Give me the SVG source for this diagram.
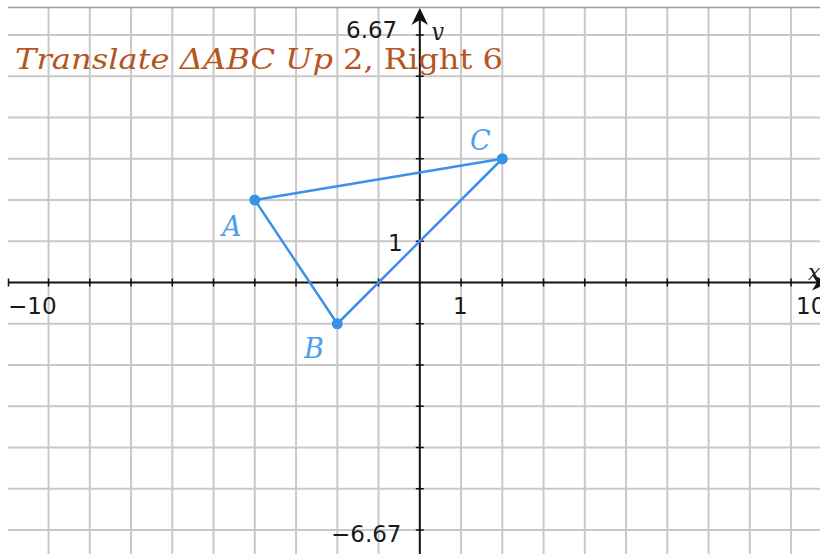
<svg xmlns="http://www.w3.org/2000/svg" width="820" height="554" viewBox="0 0 820 554">
<defs>
<style>
.grid{stroke:#c9c9c9;stroke-width:2;fill:none}
.axis{stroke:#111;stroke-width:2;fill:none}
.tick{stroke:#111;stroke-width:1.5;fill:none}
.num{font-family:"DejaVu Sans",sans-serif;font-size:23px;fill:#1a1a1a}
.edge{stroke:#3a92e8;stroke-width:2.5;fill:none}
.pt{fill:#3a92e8}
.plabel{font-family:"DejaVu Serif","Liberation Serif",serif;font-style:italic;font-size:27px;fill:#4c9deb}
.title{font-family:"DejaVu Serif","Liberation Serif",serif;font-size:28px;fill:#b5561f}
</style>
<clipPath id="yclip"><rect x="420" y="0" width="40" height="40"/></clipPath>
</defs>
<rect width="820" height="554" fill="#fff"/>
<g id="grid">
<path class="grid" d="M48.55,8V554M89.8,8V554M131.05,8V554M172.3,8V554M213.55,8V554M254.8,8V554M296.05,8V554M337.3,8V554M378.55,8V554M461.05,8V554M502.3,8V554M543.55,8V554M584.8,8V554M626.05,8V554M667.3,8V554M708.55,8V554M749.8,8V554M791.05,8V554"/>
<path class="grid" d="M8,35H820M8,76.25H820M8,117.5H820M8,158.75H820M8,200H820M8,241.25H820M8,323.75H820M8,365H820M8,406.25H820M8,447.5H820M8,488.75H820M8,530H820"/>
<line x1="8" y1="7.5" x2="820" y2="7.5" stroke="#9a9a9a" stroke-width="1.5"/>
</g>
<g id="axes">
<line class="axis" x1="8" y1="282.5" x2="818" y2="282.5"/>
<line class="axis" x1="419.8" y1="16" x2="419.8" y2="554"/>
<path d="M419.8,8 L411.5,25 L419.8,20 L428.1,25 Z" fill="#111"/>
<path d="M829,282.5 L812,274.5 L817,282.5 L812,290.5 Z" fill="#111"/>
<path class="tick" d="M8.5,278.5v8M48.55,278.5v8M89.8,278.5v8M131.05,278.5v8M172.3,278.5v8M213.55,278.5v8M254.8,278.5v8M296.05,278.5v8M337.3,278.5v8M378.55,278.5v8M461.05,278.5v8M502.3,278.5v8M543.55,278.5v8M584.8,278.5v8M626.05,278.5v8M667.3,278.5v8M708.55,278.5v8M749.8,278.5v8M791.05,278.5v8"/>
<path class="tick" d="M415.8,35h8M415.8,76.25h8M415.8,117.5h8M415.8,158.75h8M415.8,200h8M415.8,241.25h8M415.8,323.75h8M415.8,365h8M415.8,406.25h8M415.8,447.5h8M415.8,488.75h8M415.8,530h8"/>
<text class="num" x="8" y="314">−10</text>
<text class="num" x="453" y="314">1</text>
<text class="num" x="796" y="314">10</text>
<text class="num" x="388" y="251">1</text>
<text class="num" x="346" y="38">6.67</text>
<text class="num" x="331" y="542">−6.67</text>
<text x="431" y="39" clip-path="url(#yclip)" style="font-family:'DejaVu Serif',serif;font-style:italic;font-size:22px;fill:#1a1a1a">y</text>
<text x="808" y="280" style="font-family:'DejaVu Serif',serif;font-style:italic;font-size:22px;fill:#1a1a1a">x</text>
</g>
<g id="connectors">
<line class="edge" x1="254.8" y1="200" x2="502.3" y2="158.75"/>
<line class="edge" x1="254.8" y1="200" x2="337.3" y2="323.75"/>
<line class="edge" x1="337.3" y1="323.75" x2="502.3" y2="158.75"/>
</g>
<g id="node-A">
<circle class="pt" cx="254.8" cy="200" r="5.5"/>
<text class="plabel" x="222" y="236">A</text>
</g>
<g id="node-B">
<circle class="pt" cx="337.3" cy="323.75" r="5.5"/>
<text class="plabel" x="304" y="358">B</text>
</g>
<g id="node-C">
<circle class="pt" cx="502.3" cy="158.75" r="5.5"/>
<text class="plabel" x="470" y="150">C</text>
</g>
<g id="title">
<text class="title" x="15" y="69" font-style="italic" textLength="318" lengthAdjust="spacingAndGlyphs">Translate ΔABC Up</text>
<text class="title" x="343" y="69" textLength="160" lengthAdjust="spacingAndGlyphs">2, Right 6</text>
</g>
</svg>
